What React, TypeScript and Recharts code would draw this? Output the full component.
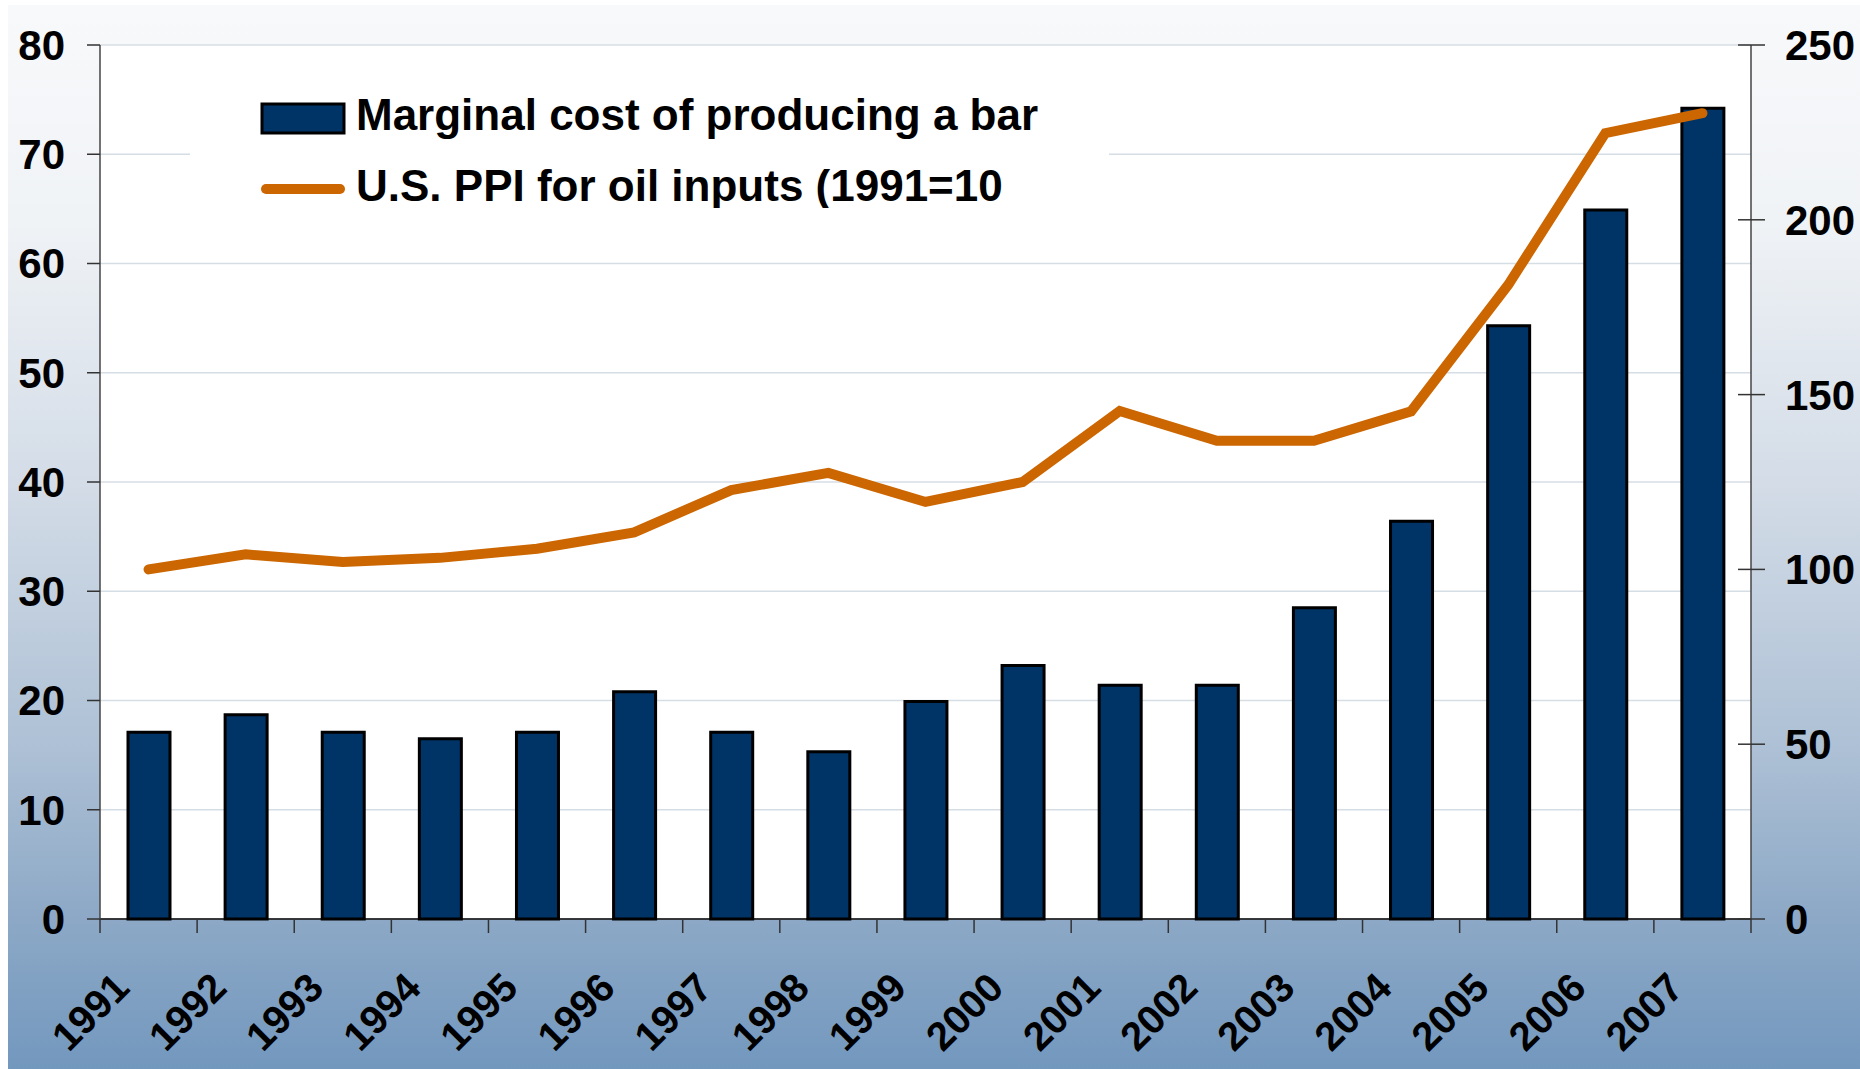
import React from 'react';
import { ComposedChart, Bar, Line, XAxis, YAxis, CartesianGrid, Legend } from 'recharts';

const years = ['1991', '1992', '1993', '1994', '1995', '1996', '1997', '1998', '1999', '2000', '2001', '2002', '2003', '2004', '2005', '2006', '2007'];
const marginalCost = [17.1, 18.7, 17.1, 16.5, 17.1, 20.8, 17.1, 15.3, 19.9, 23.2, 21.4, 21.4, 28.5, 36.4, 54.3, 64.9, 74.2];
const oilPpi = [100, 104.3, 102.1, 103.3, 105.9, 110.6, 122.7, 127.6, 119.3, 125.0, 145.3, 136.8, 136.8, 145.2, 181.4, 224.8, 230.5];
const leftTicks = [0, 10, 20, 30, 40, 50, 60, 70, 80];
const rightTicks = [0, 50, 100, 150, 200, 250];
const barName = 'Marginal cost of producing a bar';
const lineName = 'U.S. PPI for oil inputs (1991=10';

const data = years.map((year, i) => ({ year, cost: marginalCost[i], ppi: oilPpi[i] }));

const W = 1852;
const H = 1064;
const LEFT_W = 92;
const RIGHT_W = 109;
const BAND = (W - LEFT_W - RIGHT_W) / years.length;
const FONT = '"Liberation Sans", Arial, Helvetica, sans-serif';

const XTick = (props: any) => {
  const { x, y, payload, index } = props;
  const lx = x - 17;
  const ly = y + 71;
  return (
    <g>
      <line x1={x - BAND / 2} y1={y} x2={x - BAND / 2} y2={y + 14} stroke="#333" strokeWidth={1.5} />
      {index === years.length - 1 && (
        <line x1={x + BAND / 2} y1={y} x2={x + BAND / 2} y2={y + 14} stroke="#333" strokeWidth={1.5} />
      )}
      <text
        x={lx}
        y={ly}
        transform={`rotate(-45, ${lx}, ${ly})`}
        textAnchor="end"
        fontSize={40}
        fontWeight="bold"
        fill="#000"
      >
        {payload.value}
      </text>
    </g>
  );
};

// right axis ticks cross the axis line, so draw the inner half here
const RightTick = (props: any) => {
  const { x, y, payload } = props;
  const ax = x - 20 - 14;
  return (
    <g>
      <line x1={ax - 13} y1={y} x2={ax} y2={y} stroke="#333" strokeWidth={1.5} />
      <text x={x} y={y} dy={15} textAnchor="start" fontSize={42} fontWeight="bold" fill="#000">
        {payload.value}
      </text>
    </g>
  );
};

const LegendBox = () => (
  <svg width={919} height={146} style={{ display: 'block', background: '#ffffff' }}>
    <rect x={72} y={42} width={82} height={29} fill="#003366" stroke="#000" strokeWidth={3} />
    <text x={166} y={68} fontSize={44} fontWeight="bold" fill="#000" fontFamily={FONT}>
      {barName}
    </text>
    <line x1={76} y1={127} x2={150} y2={127} stroke="#cc6600" strokeWidth={10} strokeLinecap="round" />
    <text x={166} y={139} fontSize={44} fontWeight="bold" fill="#000" fontFamily={FONT}>
      {lineName}
    </text>
  </svg>
);

const App = () => {
  return (
    <div style={{ width: 1860, height: 1069, background: '#ffffff', overflow: 'hidden' }}>
      <style>{'body { margin: 0; overflow: hidden; }'}</style>
      <div
        style={{
          position: 'relative',
          left: 8,
          top: 5,
          width: W,
          height: H,
          fontFamily: FONT,
          background:
            'linear-gradient(to bottom, #f8f9fb 0%, #f0f3f6 20%, #d3dce7 45%, #adc0d5 70%, #8ca8c6 86%, #7398be 100%)',
        }}
      >
        <ComposedChart width={W} height={H} data={data} margin={{ top: 40, right: 0, bottom: 0, left: 0 }}>
          <CartesianGrid yAxisId="left" vertical={false} stroke="#d6dee5" strokeWidth={1.5} fill="#ffffff" fillOpacity={1} />
          <XAxis
            dataKey="year"
            height={150}
            tickLine={false}
            tickSize={0}
            tickMargin={0}
            interval={0}
            axisLine={{ stroke: '#000', strokeWidth: 1.5 }}
            tick={<XTick />}
          />
          <YAxis
            yAxisId="left"
            width={LEFT_W}
            domain={[0, 80]}
            ticks={leftTicks}
            interval={0}
            tickSize={13}
            tickMargin={22}
            axisLine={{ stroke: '#444', strokeWidth: 1.5 }}
            tickLine={{ stroke: '#333', strokeWidth: 1.5 }}
            tick={{ fontSize: 42, fontWeight: 'bold', fill: '#000' }}
          />
          <YAxis
            yAxisId="right"
            orientation="right"
            width={RIGHT_W}
            domain={[0, 250]}
            ticks={rightTicks}
            interval={0}
            tickSize={14}
            tickMargin={20}
            axisLine={{ stroke: '#444', strokeWidth: 1.5 }}
            tickLine={{ stroke: '#333', strokeWidth: 1.5 }}
            tick={<RightTick />}
          />
          <Legend
            layout="vertical"
            align="center"
            verticalAlign="middle"
            wrapperStyle={{ top: 57, left: 182, width: 919, height: 146 }}
            content={<LegendBox />}
          />
          <Bar
            yAxisId="left"
            dataKey="cost"
            name={barName}
            barSize={42}
            fill="#003366"
            stroke="#000"
            strokeWidth={3}
            isAnimationActive={false}
          />
          <Line
            yAxisId="right"
            dataKey="ppi"
            name={lineName}
            type="linear"
            stroke="#cc6600"
            strokeWidth={10}
            strokeLinecap="round"
            dot={false}
            activeDot={false}
            isAnimationActive={false}
          />
        </ComposedChart>
      </div>
    </div>
  );
};

export default App;
